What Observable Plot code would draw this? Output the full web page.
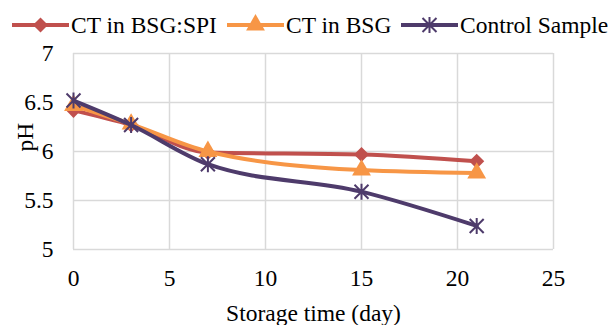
<!DOCTYPE html>
<html><head><meta charset="utf-8">
<script src="https://cdn.jsdelivr.net/npm/d3@7"></script>
<script src="https://cdn.jsdelivr.net/npm/@observablehq/plot@0.6"></script>
<style>
body{margin:0;background:#fff;}
#wrap{position:relative;width:611px;height:325px;font-family:"Liberation Serif","Times New Roman",serif;}
.leg{position:absolute;top:12px;height:26px;display:flex;align-items:center;font-size:23.5px;color:#000;white-space:nowrap;}
.leg svg{margin-right:2px;}
</style></head><body><div id="wrap"></div>
<script>
const days = [0, 3, 7, 15, 21];
const seriesNames = ["CT in BSG:SPI", "CT in BSG", "Control Sample"];
const spi = [6.42, 6.27, 5.99, 5.97, 5.90];
const bsg = [6.47, 6.28, 6.00, 5.81, 5.78];
const control = [6.52, 6.27, 5.87, 5.59, 5.24];
const xTicks = [0, 5, 10, 15, 20, 25];
const yTicks = [5, 5.5, 6, 6.5, 7];
const colors = ["#C0504D", "#F79646", "#4E3B6B"];
const symR = [6.8, 7.0, 7.6];
const legendX = [12, 227, 401];

// Excel-style star marker: vertical bar plus an X
const excelStar = {
  draw(ctx, size) {
    const r = Math.sqrt(size) * 0.59;
    const d = r * 0.88;
    ctx.moveTo(0, -r); ctx.lineTo(0, r);
    ctx.moveTo(-d, -d); ctx.lineTo(d, d);
    ctx.moveTo(-d, d); ctx.lineTo(d, -d);
  }
};
const symbols = [d3.symbolDiamond2, d3.symbolTriangle, excelStar];
const stroked = [false, false, true];

const valuesBySeries = [spi, bsg, control];
const rows = seriesNames.map((s, i) => days.map((d, j) => ({series: s, day: d, ph: valuesBySeries[i][j]})));

const marks = [
  Plot.gridX(xTicks, {stroke: "#d9d9d9", strokeOpacity: 1, strokeWidth: 1.5}),
  Plot.gridY(yTicks, {stroke: "#d9d9d9", strokeOpacity: 1, strokeWidth: 1.5}),
  Plot.axisX(xTicks, {tickSize: 0, tickPadding: 20, fontSize: 23.5, label: null}),
  Plot.axisY(yTicks, {tickSize: 0, tickPadding: 20, fontSize: 23.5, label: null, tickFormat: d => String(d)}),
  Plot.text(["Storage time (day)"], {frameAnchor: "bottom", dy: 64, lineAnchor: "middle", fontSize: 23.5}),
  Plot.text(["pH"], {frameAnchor: "left", dx: -48, rotate: -90, lineAnchor: "middle", fontSize: 23.5})
];
rows.forEach((r, i) => {
  marks.push(Plot.line(r, {x: "day", y: "ph", stroke: colors[i], strokeWidth: 4, curve: "monotone-x"}));
  if (stroked[i]) {
    marks.push(Plot.dot(r, {x: "day", y: "ph", symbol: symbols[i], stroke: colors[i], fill: "none", strokeWidth: 2, r: symR[i]}));
  } else {
    marks.push(Plot.dot(r, {x: "day", y: "ph", symbol: symbols[i], fill: colors[i], stroke: "none", r: symR[i]}));
  }
});

const chart = Plot.plot({
  width: 611, height: 325,
  marginTop: 53, marginBottom: 76, marginLeft: 73, marginRight: 58,
  style: {fontFamily: '"Liberation Serif","Times New Roman",serif', fontSize: "23.5px", color: "#000", background: "#fff"},
  x: {domain: [0, 25]},
  y: {domain: [5, 7]},
  marks
});
const wrap = document.getElementById("wrap");
wrap.appendChild(chart);

seriesNames.forEach((s, i) => {
  const div = document.createElement("div");
  div.className = "leg";
  div.style.left = legendX[i] + "px";
  const sym = d3.symbol(symbols[i], symR[i] * symR[i] * Math.PI)();
  const paint = stroked[i] ? `fill="none" stroke="${colors[i]}" stroke-width="2"` : `fill="${colors[i]}"`;
  div.innerHTML = `<svg width="57" height="20" style="overflow:visible"><line x1="0" x2="57" y1="10" y2="10" stroke="${colors[i]}" stroke-width="4"/><path transform="translate(28.5,10)" d="${sym}" ${paint}/></svg><span>${s}</span>`;
  wrap.appendChild(div);
});
</script></body></html>
